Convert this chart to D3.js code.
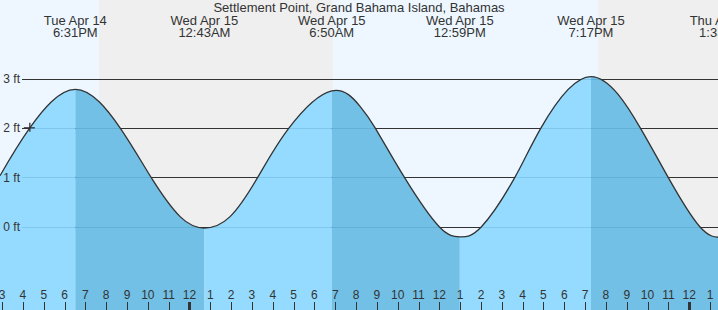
<!DOCTYPE html>
<html><head><meta charset="utf-8">
<script src="https://cdn.jsdelivr.net/npm/d3@7"></script>
<style>
html,body{margin:0;padding:0;overflow:hidden;background:#fff}
svg{display:block;font-family:"Liberation Sans",Arial,Helvetica,sans-serif}
</style>
</head><body>
<svg id="chart" width="718" height="310"></svg>
<script>
// ---- data ----
const title = "Settlement Point, Grand Bahama Island, Bahamas";
const domainStart = "2026-04-14 14:54";
const domainEnd = "2026-04-16 01:23";
// tide curve points (local time, feet)
const sampleTimes = [
  "2026-04-14 14:54","2026-04-14 16:20","2026-04-14 18:31","2026-04-14 20:40",
  "2026-04-14 22:09","2026-04-14 23:33","2026-04-15 00:43","2026-04-15 01:57",
  "2026-04-15 03:17","2026-04-15 04:47","2026-04-15 06:50","2026-04-15 08:11",
  "2026-04-15 08:55","2026-04-15 10:19","2026-04-15 11:59","2026-04-15 12:59",
  "2026-04-15 14:02","2026-04-15 15:38","2026-04-15 16:53","2026-04-15 19:17",
  "2026-04-15 21:39","2026-04-15 22:59","2026-04-16 00:30","2026-04-16 01:33"
];
const sampleHeights = [
  1.03, 2.0, 2.78, 2.0,
  1.0, 0.2, -0.03, 0.2,
  1.0, 2.0, 2.75, 2.44,
  2.0, 1.0, 0.0, -0.21,
  0.0, 1.0, 2.0, 3.04,
  2.0, 1.0, 0.0, -0.22
];
// high / low tide events
const extremeTimes = ["2026-04-14 18:31","2026-04-15 00:43","2026-04-15 06:50","2026-04-15 12:59","2026-04-15 19:17","2026-04-16 01:33"];
const extremeHeights = [2.78, -0.03, 2.75, -0.21, 3.04, -0.22];
const extremeDayLabels = ["Tue Apr 14","Wed Apr 15","Wed Apr 15","Wed Apr 15","Wed Apr 15","Thu Apr 16"];
const extremeTimeLabels = ["6:31PM","12:43AM","6:50AM","12:59PM","7:17PM","1:33AM"];
// night periods (sunset -> sunrise)
const nightStarts = ["2026-04-14 19:39","2026-04-15 19:38"];
const nightEnds   = ["2026-04-15 06:53","2026-04-16 06:52"];
// y axis
const yTicks = [0, 1, 2, 3];
const yTickLabels = ["0 ft","1 ft","2 ft","3 ft"];
// current time marker
const nowTime = "2026-04-14 16:20";
const nowHeight = 2.0;

// ---- drawing ----
const W = 718, H = 310;
const parse = d3.timeParse("%Y-%m-%d %H:%M");
const svg = d3.select("#chart");

const x = d3.scaleTime().domain([parse(domainStart), parse(domainEnd)]).range([0, W]);
const y = d3.scaleLinear().domain([0, 3]).range([226.5, 78.5]);

const C = {
  day: "#eef7ff", night: "#efefef",
  rise: "#94dbff", fall: "#72c0e5",
  ink: "#333333", text: "#333333"
};

// background: day / night
svg.append("rect").attr("width", W).attr("height", H).attr("fill", C.day);
svg.append("g").selectAll("rect").data(nightStarts.map((s, i) => [parse(s), parse(nightEnds[i])]))
  .join("rect")
  .attr("x", d => x(d[0])).attr("width", d => x(d[1]) - x(d[0]))
  .attr("y", 0).attr("height", H).attr("fill", C.night);

// dark gridlines (visible above water)
const gx0 = 22;
svg.append("g").selectAll("line").data(yTicks).join("line")
  .attr("x1", gx0).attr("x2", W)
  .attr("y1", d => Math.round(y(d)) + 0.5).attr("y2", d => Math.round(y(d)) + 0.5)
  .attr("stroke", C.ink).attr("stroke-width", 1.2);

// tide area
const pts = sampleTimes.map((t, i) => ({ t: parse(t), h: sampleHeights[i] }));
const area = d3.area().x(d => x(d.t)).y0(H).y1(d => y(d.h)).curve(d3.curveNatural);
const line = d3.line().x(d => x(d.t)).y(d => y(d.h)).curve(d3.curveNatural);

svg.append("clipPath").attr("id", "water").append("path").attr("d", area(pts));

// rising / falling segments between extremes
const bounds = [parse(domainStart), ...extremeTimes.map(parse)];
const boundH = [sampleHeights[0], ...extremeHeights];
const segs = [];
for (let i = 0; i < bounds.length - 1; i++) {
  segs.push({ a: bounds[i], b: bounds[i + 1], rising: boundH[i + 1] > boundH[i] });
}
segs.push({ a: bounds[bounds.length - 1], b: parse(domainEnd), rising: true });
const wg = svg.append("g").attr("clip-path", "url(#water)");
wg.selectAll("rect").data(segs).join("rect")
  .attr("x", d => x(d.a)).attr("width", d => Math.max(0, x(d.b) - x(d.a)))
  .attr("y", 0).attr("height", H)
  .attr("fill", d => d.rising ? C.rise : C.fall);
// faint gridlines under water
wg.append("g").selectAll("line").data(yTicks).join("line")
  .attr("x1", gx0).attr("x2", W)
  .attr("y1", d => Math.round(y(d)) + 0.5).attr("y2", d => Math.round(y(d)) + 0.5)
  .attr("stroke", "rgba(0,70,120,0.13)").attr("stroke-width", 1.2);

// tide curve
svg.append("path").attr("d", line(pts)).attr("fill", "none")
  .attr("stroke", C.ink).attr("stroke-width", 1.3);

// current time marker
const nx = x(parse(nowTime)), ny = y(nowHeight);
svg.append("line").attr("x1", nx - 6).attr("x2", nx + 5).attr("y1", ny).attr("y2", ny)
  .attr("stroke", C.ink).attr("stroke-width", 1.3);
svg.append("line").attr("x1", nx).attr("x2", nx).attr("y1", ny - 5).attr("y2", ny + 4)
  .attr("stroke", C.ink).attr("stroke-width", 1.3);

// y labels
svg.append("g").selectAll("text").data(yTicks).join("text")
  .attr("x", 20).attr("y", d => y(d) + 4.5)
  .attr("text-anchor", "end").attr("font-size", 12).attr("fill", C.text)
  .text((d, i) => yTickLabels[i]);

// bottom hour axis
const hours = d3.timeHour.range(d3.timeHour.ceil(x.domain()[0]), x.domain()[1]);
const fmtH = d3.timeFormat("%-I");
const ax = svg.append("g");
ax.selectAll("line").data(hours).join("line")
  .attr("x1", d => Math.round(x(d)) + 0.5).attr("x2", d => Math.round(x(d)) + 0.5)
  .attr("y1", 302).attr("y2", H)
  .attr("stroke", C.ink)
  .attr("stroke-width", d => d.getHours() === 0 ? 3 : 1);
ax.selectAll("text").data(hours).join("text")
  .attr("x", d => x(d)).attr("y", 299)
  .attr("text-anchor", "middle").attr("font-size", 12).attr("fill", C.text)
  .text(d => fmtH(d));

// title
svg.append("text").attr("x", W / 2).attr("y", 12).attr("text-anchor", "middle")
  .attr("font-size", 13).attr("fill", C.text).text(title);

// extreme labels (two lines in one text element)
const lg = svg.append("g").attr("font-size", 13).attr("fill", C.text).attr("text-anchor", "middle");
extremeTimes.forEach((t, i) => {
  const ex = x(parse(t));
  const tx = lg.append("text").attr("x", ex).attr("y", 24.5);
  tx.append("tspan").attr("x", ex).attr("y", 24.5).text(extremeDayLabels[i]);
  tx.append("tspan").attr("x", ex).attr("y", 36.5).text(extremeTimeLabels[i]);
});
</script>
</body></html>
